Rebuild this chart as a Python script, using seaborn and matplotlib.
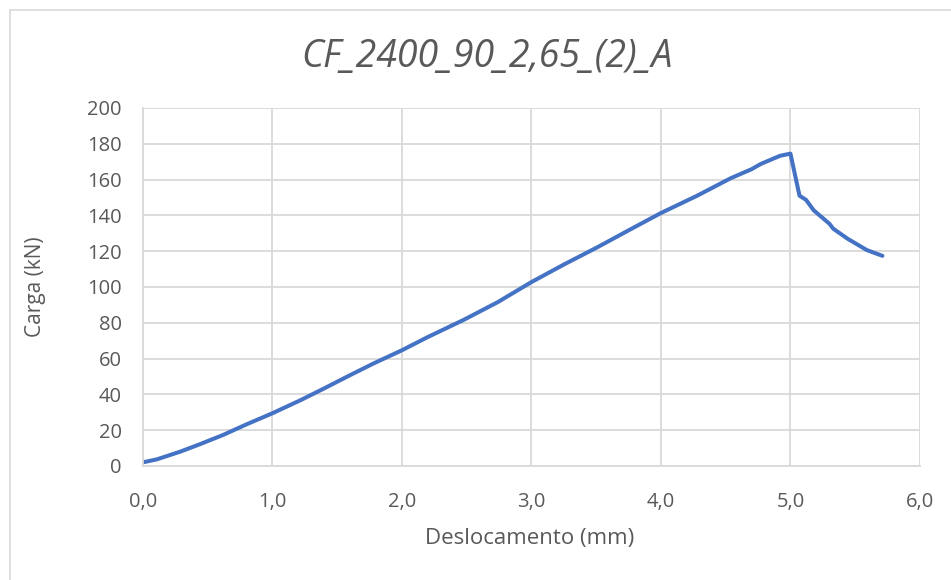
import pandas as pd
import matplotlib.pyplot as plt
import seaborn as sns
from matplotlib.patches import Rectangle

# Data
deslocamento = [0.00, 0.11, 0.29, 0.44, 0.62, 0.80, 1.00, 1.22, 1.40, 1.60, 1.78,
                2.00, 2.20, 2.48, 2.74, 3.00, 3.25, 3.51, 3.77, 4.00, 4.28, 4.54,
                4.70, 4.77, 4.92, 5.00, 5.07, 5.12, 5.18, 5.30, 5.33, 5.44, 5.59, 5.71]
carga = [2.0, 3.7, 8.0, 12.1, 17.3, 23.2, 29.4, 36.8, 43.3, 50.7, 57.2,
         64.6, 72.0, 81.7, 91.5, 102.7, 112.5, 122.2, 132.4, 141.3, 151.0, 160.8,
         165.8, 168.7, 173.3, 174.5, 151.0, 148.7, 142.8, 135.4, 132.6, 127.0, 120.6, 117.4]
x_ticks = [0, 1, 2, 3, 4, 5, 6]
y_ticks = [0, 20, 40, 60, 80, 100, 120, 140, 160, 180, 200]
titulo = 'CF_2400_90_2,65_(2)_A'

df = pd.DataFrame({'Deslocamento': deslocamento, 'Carga': carga})

sns.set_style('white')
plt.rcParams['font.family'] = ['Open Sans', 'DejaVu Sans']

grey_txt = '#595959'
grid_c = '#D9D9D9'

fig = plt.figure(figsize=(9.51, 5.80), dpi=100)
ax = fig.add_axes([0.150, 0.1966, 0.8174, 0.6172])

# chart border (as in the Excel export, cut off on the right and bottom)
fig.patches.append(Rectangle((10 / 951, -0.1), 1.2, 1 - 10 / 580 + 0.1,
                             transform=fig.transFigure, fill=False,
                             edgecolor=grid_c, linewidth=1.2))

sns.lineplot(data=df, x='Deslocamento', y='Carga', ax=ax, color='#4472C4',
             linewidth=2.9, sort=False)

ax.set_xlim(0, 6)
ax.set_ylim(0, 200)
ax.set_xticks(x_ticks)
ax.set_yticks(y_ticks)
ax.set_xticklabels([f'{v:.1f}'.replace('.', ',') for v in x_ticks])
ax.set_yticklabels([str(v) for v in y_ticks])
ax.tick_params(axis='both', length=0, labelsize=14.5, labelcolor=grey_txt)
ax.tick_params(axis='x', pad=19)
ax.tick_params(axis='y', pad=15)

ax.grid(True, color=grid_c, linewidth=1.3)
ax.set_axisbelow(True)
for s in ax.spines.values():
    s.set_visible(False)
ax.spines['bottom'].set_visible(True)
ax.spines['bottom'].set_color(grid_c)
ax.spines['bottom'].set_linewidth(1.3)
ax.spines['left'].set_visible(True)
ax.spines['left'].set_color(grid_c)
ax.spines['left'].set_linewidth(1.3)

ax.set_xlabel('Deslocamento (mm)', fontsize=16, color=grey_txt)
ax.set_ylabel('Carga (kN)', fontsize=15, color=grey_txt)
ax.xaxis.set_label_coords(0.498, -0.173)
ax.yaxis.set_label_coords(-0.124, 0.5)
fig.text(487 / 951, 1 - 67 / 580, titulo, ha='center', va='baseline',
         fontsize=27, style='italic', color=grey_txt)

plt.savefig('out.png', dpi=100)
